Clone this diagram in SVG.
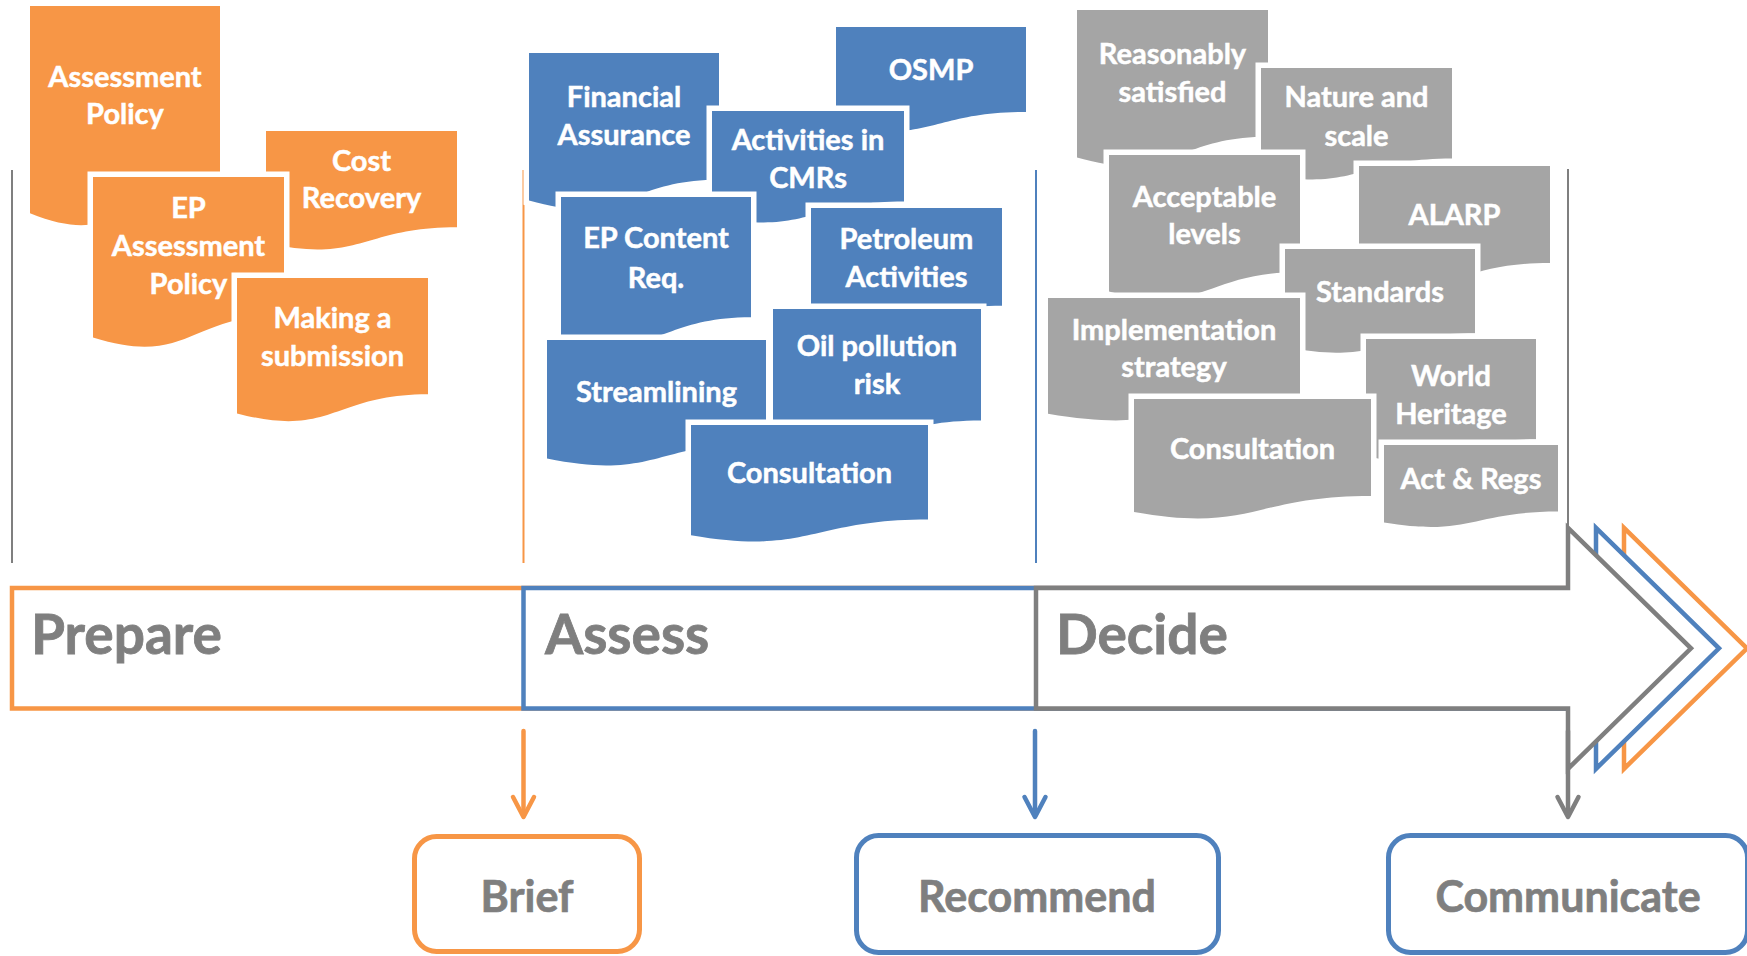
<svg xmlns="http://www.w3.org/2000/svg" width="1747" height="956" viewBox="0 0 1747 956">
<style>
.doc{stroke:#FFFFFF;stroke-width:11;paint-order:stroke;stroke-linejoin:miter}
.o{fill:#F79646}.b{fill:#4F81BD}.g{fill:#A5A5A5}
.lbl{font-family:Lato,"Liberation Sans",sans-serif;font-weight:700;font-size:29px;fill:#FFFFFF;stroke:#FFFFFF;stroke-width:0.5;text-anchor:middle}
.sep{stroke-width:2;fill:none}
.arr{fill:#FFFFFF;stroke-width:4.5;stroke-linejoin:miter;stroke-miterlimit:10}
.phase{font-family:Lato,"Liberation Sans",sans-serif;font-weight:700;font-size:55px;fill:#7F7F7F;stroke:#7F7F7F;stroke-width:0.8}
.out{fill:#FFFFFF;stroke-width:5}
.outt{font-family:Lato,"Liberation Sans",sans-serif;font-weight:700;font-size:43px;fill:#7F7F7F;stroke:#7F7F7F;stroke-width:0.7;text-anchor:middle}
.con{fill:none;stroke-width:4.5;stroke-linecap:round;stroke-linejoin:round}
</style>
<rect width="1747" height="956" fill="#FFFFFF"/>
<g id="separators">
<line class="sep" x1="12" y1="170" x2="12" y2="563" stroke="#7F7F7F"/>
<line class="sep" x1="523.5" y1="170" x2="523.5" y2="563" stroke="#F79646"/>
<line class="sep" x1="1036" y1="170" x2="1036" y2="563" stroke="#4F81BD"/>
<line class="sep" x1="1568" y1="169" x2="1568" y2="563" stroke="#7F7F7F"/>
</g>
<g id="prepare-docs">
<g id="doc-assessment-policy"><path class="doc o" d="M30,6 H220 V184 C125,184 125,251.9 30,213.3 Z"/><text class="lbl" x="125" y="87">Assessment</text><text class="lbl" x="125" y="124">Policy</text></g>
<g id="doc-cost-recovery"><path class="doc o" d="M266,131 H457 V227.2 C361.5,227.2 361.5,263.9 266,243.1 Z"/><text class="lbl" x="361.5" y="171">Cost</text><text class="lbl" x="361.5" y="208">Recovery</text></g>
<g id="doc-ep-assessment-policy"><path class="doc o" d="M93,177 H284 V314.9 C188.5,314.9 188.5,367.5 93,337.6 Z"/><text class="lbl" x="188.5" y="218">EP</text><text class="lbl" x="188.5" y="256">Assessment</text><text class="lbl" x="188.5" y="294">Policy</text></g>
<g id="doc-making-submission"><path class="doc o" d="M237,278 H428 V394.3 C332.5,394.3 332.5,438.6 237,413.4 Z"/><text class="lbl" x="332.5" y="328">Making a</text><text class="lbl" x="332.5" y="366">submission</text></g>
</g>
<g id="assess-docs">
<g id="doc-financial-assurance"><path class="doc b" d="M529,53 H719 V179.7 C624,179.7 624,228 529,200.6 Z"/><text class="lbl" x="624" y="107">Financial</text><text class="lbl" x="624" y="145">Assurance</text></g>
<g id="doc-osmp"><path class="doc b" d="M836,27 H1026 V112 C931,112 931,144.4 836,126 Z"/><text class="lbl" x="931" y="80">OSMP</text></g>
<g id="doc-activities-cmrs"><path class="doc b" d="M712,111 H904 V201.6 C808,201.6 808,236.1 712,216.5 Z"/><text class="lbl" x="808" y="150">Activities in</text><text class="lbl" x="808" y="187.5">CMRs</text></g>
<g id="doc-ep-content"><path class="doc b" d="M561,197 H751 V317.3 C656,317.3 656,363.1 561,337.1 Z"/><text class="lbl" x="656" y="248">EP Content</text><text class="lbl" x="656" y="287.5">Req.</text></g>
<g id="doc-petroleum"><path class="doc b" d="M811,208 H1002 V305.8 C906.5,305.8 906.5,343.1 811,322 Z"/><text class="lbl" x="906.5" y="249">Petroleum</text><text class="lbl" x="906.5" y="287">Activities</text></g>
<g id="doc-streamlining"><path class="doc b" d="M547,340 H766 V441.9 C656.5,441.9 656.5,480.7 547,458.6 Z"/><text class="lbl" x="656.5" y="402">Streamlining</text></g>
<g id="doc-oil-pollution"><path class="doc b" d="M773,309 H981 V420.5 C877,420.5 877,462.9 773,438.8 Z"/><text class="lbl" x="877" y="356">Oil pollution</text><text class="lbl" x="877" y="394">risk</text></g>
<g id="doc-consultation-assess"><path class="doc b" d="M691,425 H928 V519.6 C809.5,519.6 809.5,555.7 691,535.2 Z"/><text class="lbl" x="809.5" y="483">Consultation</text></g>
</g>
<g id="decide-docs">
<g id="doc-reasonably-satisfied"><path class="doc g" d="M1077,10 H1268 V136.7 C1172.5,136.7 1172.5,185 1077,157.6 Z"/><text class="lbl" x="1172.5" y="64">Reasonably</text><text class="lbl" x="1172.5" y="102">satisfied</text></g>
<g id="doc-nature-scale"><path class="doc g" d="M1261,68 H1452 V158.6 C1356.5,158.6 1356.5,193.1 1261,173.5 Z"/><text class="lbl" x="1356.5" y="107">Nature and</text><text class="lbl" x="1356.5" y="146">scale</text></g>
<g id="doc-acceptable-levels"><path class="doc g" d="M1109,155 H1300 V272.1 C1204.5,272.1 1204.5,316.7 1109,291.4 Z"/><text class="lbl" x="1204.5" y="207">Acceptable</text><text class="lbl" x="1204.5" y="244">levels</text></g>
<g id="doc-alarp"><path class="doc g" d="M1359,166 H1550 V263 C1454.5,263 1454.5,300 1359,279 Z"/><text class="lbl" x="1454.5" y="224.5">ALARP</text></g>
<g id="doc-standards"><path class="doc g" d="M1285,249 H1475 V333.2 C1380,333.2 1380,365.3 1285,347.1 Z"/><text class="lbl" x="1380" y="302">Standards</text></g>
<g id="doc-implementation"><path class="doc g" d="M1048,298 H1300 V397.4 C1174,397.4 1174,435.3 1048,413.8 Z"/><text class="lbl" x="1174" y="340">Implementation</text><text class="lbl" x="1174" y="377">strategy</text></g>
<g id="doc-world-heritage"><path class="doc g" d="M1366,339 H1536 V439.3 C1451,439.3 1451,477.4 1366,455.8 Z"/><text class="lbl" x="1451" y="386">World</text><text class="lbl" x="1451" y="424">Heritage</text></g>
<g id="doc-consultation-decide"><path class="doc g" d="M1134,399 H1371 V496 C1252.5,496 1252.5,533 1134,512 Z"/><text class="lbl" x="1252.5" y="459">Consultation</text></g>
<g id="doc-act-regs"><path class="doc g" d="M1384,445 H1558 V511.6 C1471,511.6 1471,536.9 1384,522.5 Z"/><text class="lbl" x="1471" y="489">Act &amp; Regs</text></g>
</g>
<g id="phase-prepare"><path class="arr" stroke="#F79646" d="M12,588 H1624 V527.8 L1747,648.3 L1624,768.8 V708.5 H12 Z"/><text class="phase" x="31" y="654">Prepare</text></g>
<g id="phase-assess"><path class="arr" stroke="#4F81BD" d="M523.5,588 H1596 V527.8 L1719,648.3 L1596,768.8 V708.5 H523.5 Z"/><text class="phase" x="545" y="654">Assess</text></g>
<g id="phase-decide"><path class="arr" stroke="#7F7F7F" d="M1036,588 H1568 V527.8 L1691,648.3 L1568,768.8 V708.5 H1036 Z"/><text class="phase" x="1056" y="654">Decide</text></g>
<g id="connectors">
<g stroke="#F79646" class="con"><line x1="523.5" y1="731" x2="523.5" y2="815"/><path d="M513,797 L523.5,817 L534,797"/></g>
<g stroke="#4F81BD" class="con"><line x1="1035" y1="731" x2="1035" y2="815"/><path d="M1024.5,797 L1035,817 L1045.5,797"/></g>
<g stroke="#7F7F7F" class="con"><line x1="1568" y1="731" x2="1568" y2="815"/><path d="M1557.5,797 L1568,817 L1578.5,797"/></g>
</g>
<g id="node-brief"><rect class="out" stroke="#F79646" x="414.5" y="836.5" width="225" height="115" rx="22"/><text class="outt" x="527" y="912">Brief</text></g>
<g id="node-recommend"><rect class="out" stroke="#4F81BD" x="856.5" y="835.5" width="362" height="117" rx="22"/><text class="outt" x="1037" y="912">Recommend</text></g>
<g id="node-communicate"><rect class="out" stroke="#4F81BD" x="1388.5" y="835.5" width="359" height="117" rx="22"/><text class="outt" x="1568" y="912">Communicate</text></g>
</svg>
